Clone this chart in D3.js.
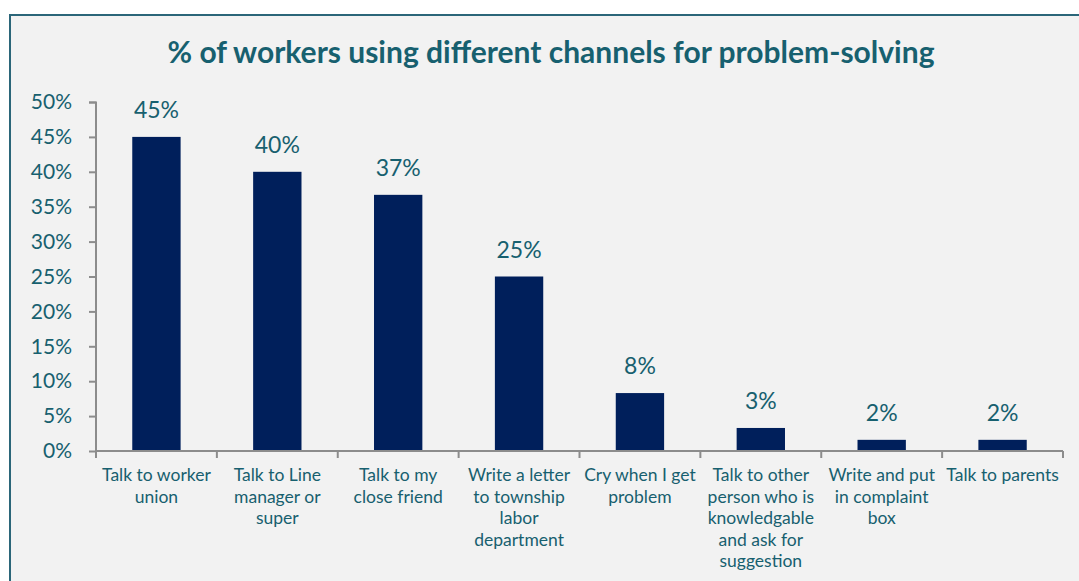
<!DOCTYPE html>
<html>
<head>
<meta charset="utf-8">
<script src="https://cdn.jsdelivr.net/npm/d3@7"></script>
<style>
  body { margin: 0; background: #ffffff; }
  svg { display: block; }
</style>
</head>
<body>
<div id="chart"></div>
<script>
// chart data
var categories = [
    ['Talk to worker', 'union'],
    ['Talk to Line', 'manager or', 'super'],
    ['Talk to my', 'close friend'],
    ['Write a letter', 'to township', 'labor', 'department'],
    ['Cry when I get', 'problem'],
    ['Talk to other', 'person who is', 'knowledgable', 'and ask for', 'suggestion'],
    ['Write and put', 'in complaint', 'box'],
    ['Talk to parents']
];
var values     = [45, 40, 36.7, 25, 8.3, 3.3, 1.6, 1.6];
var valueLabels = ['45%', '40%', '37%', '25%', '8%', '3%', '2%', '2%'];
var yTicks     = [0, 5, 10, 15, 20, 25, 30, 35, 40, 45, 50];
var title      = '% of workers using different channels for problem-solving';

// chart params
var width  = 1079;
var height = 581;

var bar_color  = '#001f5b';
var text_color = '#17606f';
var axis_color = '#8c8c8c';
var font       = 'Lato, "Open Sans", sans-serif';

var svg = d3.select('#chart')
    .append('svg')
    .attr('width', width)
    .attr('height', height);

// panel
svg.append('rect')
    .attr('x', 10)
    .attr('y', 15)
    .attr('width', width)
    .attr('height', height)
    .attr('fill', '#f2f2f2')
    .attr('stroke', '#2b6679')
    .attr('stroke-width', 2);

// scales
var x_scale = d3.scaleBand()
    .domain(d3.range(categories.length))
    .range([96, 1063])
    .paddingInner(0.6)
    .paddingOuter(0.3);

var y_scale = d3.scaleLinear()
    .domain([0, 50])
    .range([451, 102]);

// title
svg.append('text')
    .attr('x', 551)
    .attr('y', 63)
    .attr('text-anchor', 'middle')
    .attr('font-family', font)
    .attr('font-weight', 'bold')
    .attr('font-size', '30px')
    .attr('fill', text_color)
    .text(title);

// bars
svg.append('g')
    .selectAll('rect')
    .data(values)
    .enter()
    .append('rect')
    .attr('x', function(d, i) { return x_scale(i); })
    .attr('y', function(d) { return y_scale(d); })
    .attr('width', x_scale.bandwidth())
    .attr('height', function(d) { return y_scale(0) - y_scale(d); })
    .attr('fill', bar_color);

// value labels
svg.append('g')
    .selectAll('text')
    .data(values)
    .enter()
    .append('text')
    .attr('x', function(d, i) { return x_scale(i) + x_scale.bandwidth() / 2; })
    .attr('y', function(d) { return y_scale(d) - 19; })
    .attr('text-anchor', 'middle')
    .attr('font-family', font)
    .attr('font-size', '23px')
    .attr('fill', text_color)
    .text(function(d, i) { return valueLabels[i]; });

// y axis
var y_axis = d3.axisLeft(y_scale)
    .tickValues(yTicks)
    .tickSize(7)
    .tickPadding(17)
    .tickFormat(function(d) { return d + '%'; });

var yg = svg.append('g')
    .attr('transform', 'translate(96,0)')
    .call(y_axis);
yg.select('.domain').attr('stroke', axis_color).attr('stroke-width', 2).attr('d', 'M-7,102.5H0V451');
yg.selectAll('.tick line').attr('stroke', axis_color).attr('stroke-width', 2);
yg.selectAll('.tick text')
    .attr('font-family', font)
    .attr('font-size', '21px')
    .attr('fill', text_color);

// x axis line and category ticks
var boundaries = d3.range(categories.length + 1).map(function(i) {
    return 96 + i * x_scale.step();
});
svg.append('line')
    .attr('x1', 96).attr('x2', 1063)
    .attr('y1', 451).attr('y2', 451)
    .attr('stroke', axis_color)
    .attr('stroke-width', 2);
svg.append('g')
    .selectAll('line')
    .data(boundaries)
    .enter()
    .append('line')
    .attr('x1', function(d) { return d; })
    .attr('x2', function(d) { return d; })
    .attr('y1', 451).attr('y2', 458)
    .attr('stroke', axis_color)
    .attr('stroke-width', 2);

// category labels
var labels = svg.append('g')
    .selectAll('text')
    .data(categories)
    .enter()
    .append('text')
    .attr('x', function(d, i) { return x_scale(i) + x_scale.bandwidth() / 2; })
    .attr('y', 481)
    .attr('text-anchor', 'middle')
    .attr('font-family', font)
    .attr('font-size', '17.5px')
    .attr('fill', text_color);

labels.selectAll('tspan')
    .data(function(d) { return d; })
    .enter()
    .append('tspan')
    .attr('x', function() { return d3.select(this.parentNode).attr('x'); })
    .attr('dy', function(d, i) { return i === 0 ? 0 : 21.5; })
    .text(function(d) { return d; });
</script>
</body>
</html>
